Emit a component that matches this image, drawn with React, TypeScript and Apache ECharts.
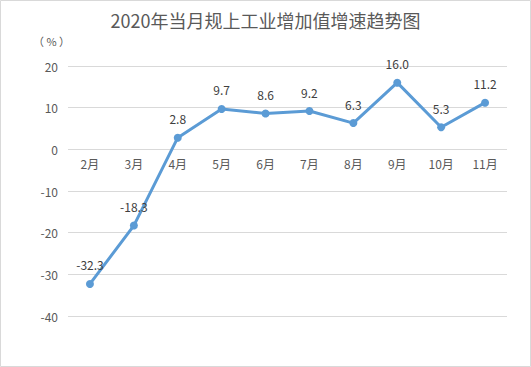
import React, { useEffect, useRef } from "react";
import * as echarts from "echarts";

const categories = ["2月", "3月", "4月", "5月", "6月", "7月", "8月", "9月", "10月", "11月"];
const growth = [-32.3, -18.3, 2.8, 9.7, 8.6, 9.2, 6.3, 16.0, 5.3, 11.2];
const titleText = "2020年当月规上工业增加值增速趋势图";
const unitText = "（ % ）";

const FONT = "'Noto Sans CJK SC', 'Noto Sans', sans-serif";

export default function App() {
  const ref = useRef<HTMLDivElement>(null);
  useEffect(() => {
    const chart = echarts.init(ref.current!, null, { renderer: "svg" });
    chart.setOption({
      animation: false,
      backgroundColor: "#ffffff",
      textStyle: { fontFamily: FONT },
      title: {
        text: titleText,
        left: "center",
        top: 6,
        textStyle: { fontSize: 18, fontWeight: "normal", color: "#595959", fontFamily: FONT },
      },
      graphic: [
        {
          type: "rect",
          shape: { x: 0.5, y: 0.5, width: 530, height: 366 },
          style: { fill: "none", stroke: "#d9d9d9", lineWidth: 1 },
          silent: true,
        },
        {
          type: "text",
          left: 33,
          top: 35,
          style: { text: unitText, fontSize: 11, fill: "#595959", fontFamily: FONT },
        },
      ],
      grid: { left: 68, right: 24, top: 66, bottom: 51, containLabel: false },
      xAxis: {
        type: "category",
        data: categories,
        boundaryGap: true,
        position: "bottom",
        offset: -167,
        axisLine: { show: false },
        axisTick: { show: false },
        axisLabel: { color: "#595959", fontSize: 12, margin: 8, fontFamily: FONT },
      },
      yAxis: {
        type: "value",
        min: -40,
        max: 20,
        interval: 10,
        axisLine: { show: false },
        axisTick: { show: false },
        splitLine: { lineStyle: { color: "#d9d9d9", width: 1 } },
        axisLabel: { color: "#595959", fontSize: 12, margin: 10, fontFamily: FONT },
      },
      series: [
        {
          type: "line",
          data: growth,
          symbol: "circle",
          symbolSize: 8,
          itemStyle: { color: "#5B9BD5" },
          lineStyle: { color: "#5B9BD5", width: 3 },
          label: {
            show: true,
            position: "top",
            distance: 9,
            color: "#404040",
            fontSize: 12,
            fontFamily: FONT,
            formatter: (p: any) => Number(p.value).toFixed(1),
          },
        },
      ],
    });
    return () => chart.dispose();
  }, []);
  return (
    <div
      ref={ref}
      style={{ position: "fixed", left: 0, top: 0, width: 531, height: 367 }}
    />
  );
}
